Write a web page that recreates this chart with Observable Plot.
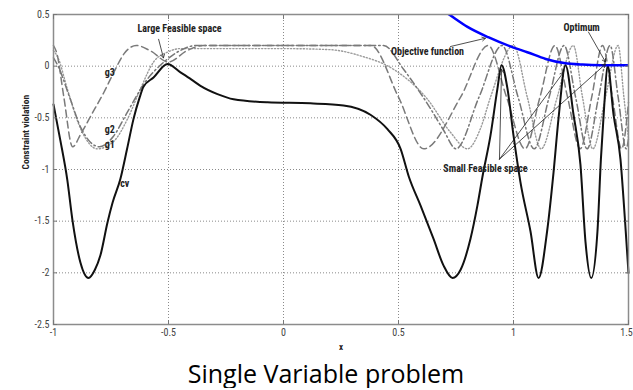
<!DOCTYPE html>
<html><head><meta charset="utf-8">
<script src="https://cdn.jsdelivr.net/npm/d3@7"></script>
<script src="https://cdn.jsdelivr.net/npm/@observablehq/plot@0.6"></script>
<style>
body{margin:0;background:#fff;}
#cap{font-family:"Open Sans",sans-serif;font-size:25px;text-align:center;width:614px;padding-left:19px;line-height:30px;color:#000;}
</style></head><body><div id="chart"></div><div id="cap">Single Variable problem</div>
<script>
const xTicks = [-1, -0.5, 0, 0.5, 1, 1.5];
const yTicks = [0.5, 0, -0.5, -1, -1.5, -2, -2.5];
const xGrid = [-0.5, 0, 0.5, 1];
const yGrid = [0, -0.5, -1, -1.5, -2];

// cv (black solid)
const cv = [[-1,-0.37],[-0.97,-0.72],[-0.94,-1.1],[-0.917,-1.5],[-0.883,-1.9],[-0.848,-2.05],[-0.82,-1.97],[-0.796,-1.83],[-0.765,-1.51],[-0.743,-1.32],[-0.709,-1.09],[-0.68,-0.8],[-0.652,-0.51],[-0.625,-0.3],[-0.609,-0.2],[-0.565,-0.11],[-0.504,0.02],[-0.448,-0.06],[-0.4,-0.13],[-0.361,-0.19],[-0.287,-0.27],[-0.217,-0.32],[-0.07,-0.35],[0.117,-0.36],[0.261,-0.38],[0.378,-0.47],[0.452,-0.61],[0.509,-0.8],[0.545,-1.07],[0.596,-1.35],[0.652,-1.67],[0.696,-1.93],[0.735,-2.05],[0.77,-1.97],[0.813,-1.67],[0.843,-1.35],[0.865,-1.07],[0.9,-0.67],[0.93,-0.22],[0.948,0.01],[0.974,-0.22],[1.0,-0.67],[1.03,-1.12],[1.074,-1.6],[1.109,-2.05],[1.146,-1.6],[1.174,-1.03],[1.196,-0.5],[1.226,0.01],[1.261,-0.47],[1.291,-0.95],[1.313,-1.7],[1.338,-2.05],[1.365,-1.6],[1.38,-0.9],[1.394,-0.4],[1.409,0.01],[1.435,-0.47],[1.465,-0.9],[1.485,-1.5],[1.5,-2.0]];

// g1 (dotted)
const g1 = [[-1,0.15],[-0.98,0.08],[-0.94,-0.22],[-0.883,-0.6],[-0.809,-0.8],[-0.739,-0.73],[-0.678,-0.51],[-0.622,-0.22],[-0.565,0.04],[-0.5,0.14],[-0.45,0.17],[0.0,0.17],[0.2,0.16],[0.335,0.1],[0.478,-0.03],[0.626,-0.32],[0.726,-0.64],[0.8,-0.8],[0.857,-0.6],[0.9,-0.3],[1.0,0.2],[1.06,-0.3],[1.12,-0.8],[1.19,-0.3],[1.26,0.2],[1.3,-0.3],[1.345,-0.8],[1.4,-0.3],[1.455,0.2],[1.48,-0.3],[1.5,-0.7]];

// g2 (dash-dot)
const g2 = [[-1,0.08],[-0.98,0.0],[-0.93,-0.3],[-0.88,-0.6],[-0.8,-0.78],[-0.74,-0.68],[-0.68,-0.45],[-0.6,-0.15],[-0.52,0.04],[-0.45,0.15],[-0.38,0.2],[0.435,0.2],[0.522,-0.03],[0.583,-0.22],[0.639,-0.41],[0.696,-0.62],[0.75,-0.8],[0.85,-0.3],[0.95,0.2],[1.02,-0.3],[1.09,-0.8],[1.155,-0.3],[1.22,0.2],[1.27,-0.3],[1.32,-0.8],[1.37,-0.3],[1.42,0.2],[1.455,-0.3],[1.49,-0.8],[1.5,-0.7]];

// g3 (dashed)
const g3 = [[-1,0.2],[-0.985,0.12],[-0.955,-0.3],[-0.917,-0.78],[-0.88,-0.65],[-0.83,-0.45],[-0.78,-0.25],[-0.74,-0.07],[-0.69,0.13],[-0.64,0.2],[-0.58,0.15],[-0.5,0.04],[-0.42,0.15],[-0.35,0.2],[0.38,0.2],[0.5,-0.3],[0.61,-0.8],[0.77,-0.3],[0.89,0.2],[0.97,-0.3],[1.05,-0.8],[1.115,-0.3],[1.18,0.2],[1.235,-0.3],[1.29,-0.8],[1.34,-0.3],[1.387,0.2],[1.43,-0.3],[1.47,-0.8],[1.5,-0.35]];

// objective function (blue)
const objective = [[0.7,0.53],[0.72,0.5],[0.8,0.38],[0.89,0.28],[1.0,0.18],[1.06,0.135],[1.14,0.07],[1.22,0.03],[1.3,0.015],[1.38,0.01],[1.5,0.01]];

const labels = [
  {text:"Large Feasible space", x:-0.452, y:0.36, anchor:"middle"},
  {text:"Objective function", x:0.626, y:0.135, anchor:"middle"},
  {text:"Optimum", x:1.296, y:0.37, anchor:"middle"},
  {text:"Small Feasible space", x:0.878, y:-0.99, anchor:"middle"},
  {text:"cv", x:-0.69, y:-1.14, anchor:"start"},
  {text:"g3", x:-0.755, y:-0.06, anchor:"start"},
  {text:"g2", x:-0.755, y:-0.62, anchor:"start"},
  {text:"g1", x:-0.755, y:-0.765, anchor:"start"}
];

const arrows = [
  {x1:-0.543, y1:0.26, x2:-0.522, y2:0.08},
  {x1:0.726, y1:0.19, x2:0.878, y2:0.27},
  {x1:1.326, y1:0.33, x2:1.4, y2:0.04},
  {x1:0.939, y1:-0.9, x2:0.948, y2:-0.03},
  {x1:0.939, y1:-0.9, x2:1.217, y2:-0.06},
  {x1:0.939, y1:-0.9, x2:1.4, y2:0.02}
];

const fam = '"Liberation Sans Narrow","Arial Narrow","Roboto Condensed",Roboto,sans-serif';
const X = d => d[0], Y = d => d[1];
const fmt = d => String(d);

const chart = Plot.plot({
  width: 633, height: 358,
  marginLeft: 53, marginRight: 5, marginTop: 14, marginBottom: 34,
  x: {domain: [-1, 1.5]},
  y: {domain: [-2.5, 0.5]},
  style: {fontFamily: fam, fontSize: "10px", background: "white", color: "#222"},
  marks: [
    Plot.gridX(xGrid, {stroke: "#8a8a8a", strokeOpacity: 1, strokeDasharray: "1,2"}),
    Plot.gridY(yGrid, {stroke: "#8a8a8a", strokeOpacity: 1, strokeDasharray: "1,2"}),
    Plot.line(g1, {x: X, y: Y, curve: "monotone-x", stroke: "#9a9a9a", strokeWidth: 1.4, strokeDasharray: "1.2,2"}),
    Plot.line(g2, {x: X, y: Y, curve: "monotone-x", stroke: "#777", strokeWidth: 1.5, strokeDasharray: "7,3,1.5,3"}),
    Plot.line(g3, {x: X, y: Y, curve: "monotone-x", stroke: "#7a7a7a", strokeWidth: 1.5, strokeDasharray: "7,4"}),
    Plot.line(cv, {x: X, y: Y, curve: "monotone-x", stroke: "#111", strokeWidth: 2}),
    Plot.line(objective, {x: X, y: Y, curve: "monotone-x", stroke: "#0000ff", strokeWidth: 2.5, clip: true}),
    Plot.arrow(arrows, {x1: "x1", y1: "y1", x2: "x2", y2: "y2", stroke: "#222", strokeWidth: 0.8, headLength: 7}),
    Plot.text(labels, {x: "x", y: "y", text: "text", textAnchor: d => d.anchor, fontWeight: "bold", fontSize: 10, fill: "#222"}),
    Plot.frame({stroke: "#8c8c8c", strokeWidth: 1.5}),
    Plot.axisX(xTicks.slice(0, -1), {anchor: "bottom", tickSize: 0, tickPadding: 4, label: null, fill: "#444", tickFormat: fmt}),
    Plot.axisX(xTicks.slice(-1), {anchor: "bottom", tickSize: 0, tickPadding: 4, label: null, fill: "#444", tickFormat: fmt, dx: -2}),
    Plot.axisY(yTicks, {anchor: "left", tickSize: 0, tickPadding: 4, label: null, fill: "#444", tickFormat: fmt}),
    Plot.axisX(xTicks, {anchor: "bottom", tickSize: 4, dy: -4, tickFormat: () => "", label: null, stroke: "#777"}),
    Plot.axisX(xTicks, {anchor: "top", tickSize: 4, dy: 4, tickFormat: () => "", label: null, stroke: "#777"}),
    Plot.axisY(yTicks, {anchor: "left", tickSize: 4, dx: 4, tickFormat: () => "", label: null, stroke: "#777"}),
    Plot.axisY(yTicks, {anchor: "right", tickSize: 4, dx: -4, tickFormat: () => "", label: null, stroke: "#777"}),
    Plot.text(["Constraint violation"], {frameAnchor: "left", dx: -28, rotate: -90, text: d => d, fontWeight: "bold", fontSize: 9.5, fill: "#222"}),
    Plot.text(["x"], {frameAnchor: "bottom", dy: 25, text: d => d, fontWeight: "bold", fontSize: 9, fill: "#222"})
  ]
});
document.getElementById("chart").appendChild(chart);
</script>
</body></html>
